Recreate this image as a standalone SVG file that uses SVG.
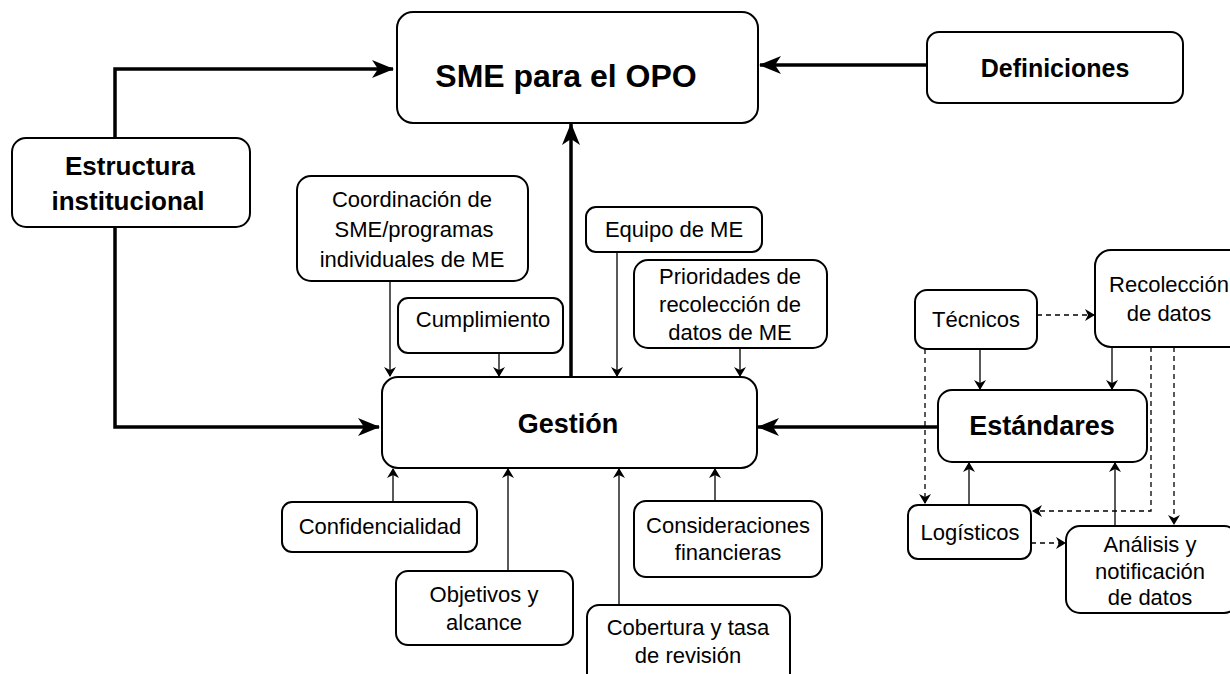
<svg xmlns="http://www.w3.org/2000/svg" width="1230" height="674" viewBox="0 0 1230 674">
<style>
.box{fill:#fff;stroke:#000;stroke-width:2}
.t{font-family:"Liberation Sans",Arial,sans-serif;font-size:22px;text-anchor:middle;fill:#000}
.b{font-weight:bold}
.thick{fill:none;stroke:#000;stroke-width:3.5}
.thin{fill:none;stroke:#000;stroke-width:1.3}
.dash{fill:none;stroke:#000;stroke-width:1.3;stroke-dasharray:5,4}
</style>
<defs>
<marker id="ab" markerWidth="10" markerHeight="12" refX="9" refY="6" orient="auto" markerUnits="userSpaceOnUse" viewBox="0 0 10 12"><path d="M0,0 L10,6 L0,12 L3,6 Z" fill="#000"/></marker>
<marker id="big" markerWidth="22" markerHeight="18" refX="21" refY="9" orient="auto" markerUnits="userSpaceOnUse" viewBox="0 0 22 18"><path d="M0,0 L22,9 L0,18 L6,9 Z" fill="#000"/></marker>
</defs>
<g id="connectors">
<path class="thick" d="M115,138 V69 H393" marker-end="url(#big)"/>
<path class="thick" d="M115,227 V427 H379" marker-end="url(#big)"/>
<path class="thick" d="M927,65 H760" marker-end="url(#big)"/>
<path class="thick" d="M571,377 V124" marker-end="url(#big)"/>
<path class="thick" d="M938,427 H758" marker-end="url(#big)"/>
<path class="thin" d="M390,281 V376" marker-end="url(#ab)"/>
<path class="thin" d="M499,353 V376" marker-end="url(#ab)"/>
<path class="thin" d="M617,252 V376" marker-end="url(#ab)"/>
<path class="thin" d="M740,348 V376" marker-end="url(#ab)"/>
<path class="thin" d="M393,502 V469" marker-end="url(#ab)"/>
<path class="thin" d="M508,571 V469" marker-end="url(#ab)"/>
<path class="thin" d="M619,605 V469" marker-end="url(#ab)"/>
<path class="thin" d="M715,501 V469" marker-end="url(#ab)"/>
<path class="dash" d="M1037,315 H1094" marker-end="url(#ab)"/>
<path class="thin" d="M980,349 V389" marker-end="url(#ab)"/>
<path class="dash" d="M925,349 V503" marker-end="url(#ab)"/>
<path class="thin" d="M1112,347 V389" marker-end="url(#ab)"/>
<path class="dash" d="M1151,347 V511 H1033" marker-end="url(#ab)"/>
<path class="dash" d="M1174,347 V524" marker-end="url(#ab)"/>
<path class="thin" d="M969,505 V463" marker-end="url(#ab)"/>
<path class="thin" d="M1115,526 V463" marker-end="url(#ab)"/>
<path class="dash" d="M1031,543 H1065" marker-end="url(#ab)"/>
</g>
<g id="sme"><rect class="box" x="397" y="12" width="361" height="111" rx="16"/><text class="t b" x="566" y="87" style="font-size:32px">SME para el OPO</text></g>
<g id="definiciones"><rect class="box" x="927" y="32" width="256" height="71" rx="12"/><text class="t b" x="1055" y="77" style="font-size:25px">Definiciones</text></g>
<g id="estructura"><rect class="box" x="12" y="138" width="238" height="89" rx="14"/><text class="t b" x="130" y="175" style="font-size:26px">Estructura</text><text class="t b" x="128" y="210" style="font-size:26px">institucional</text></g>
<g id="coordinacion"><rect class="box" x="297" y="176" width="231" height="105" rx="14"/><text class="t" x="412" y="207">Coordinación de</text><text class="t" x="414" y="237">SME/programas</text><text class="t" x="412" y="267">individuales de ME</text></g>
<g id="equipo"><rect class="box" x="586" y="207" width="176" height="45" rx="10"/><text class="t" x="674" y="237">Equipo de ME</text></g>
<g id="prioridades"><rect class="box" x="634" y="260" width="193" height="88" rx="14"/><text class="t" x="730" y="284">Prioridades de</text><text class="t" x="730" y="312">recolección de</text><text class="t" x="730" y="340">datos de ME</text></g>
<g id="cumplimiento"><rect class="box" x="398" y="298" width="165" height="55" rx="10"/><text class="t" x="483" y="327">Cumplimiento</text></g>
<g id="gestion"><rect class="box" x="382" y="377" width="375" height="91" rx="16"/><text class="t b" x="568" y="433" style="font-size:27px">Gestión</text></g>
<g id="estandares"><rect class="box" x="938" y="390" width="209" height="72" rx="14"/><text class="t b" x="1042" y="435" style="font-size:27px">Estándares</text></g>
<g id="tecnicos"><rect class="box" x="915" y="290" width="122" height="59" rx="12"/><text class="t" x="976" y="327">Técnicos</text></g>
<g id="recoleccion"><rect class="box" x="1095" y="250" width="150" height="97" rx="16"/><text class="t" x="1169" y="292">Recolección</text><text class="t" x="1169" y="321">de datos</text></g>
<g id="logisticos"><rect class="box" x="908" y="505" width="123" height="54" rx="10"/><text class="t" x="970" y="540">Logísticos</text></g>
<g id="analisis"><rect class="box" x="1066" y="526" width="172" height="87" rx="14"/><text class="t" x="1150" y="552">Análisis y</text><text class="t" x="1150" y="579">notificación</text><text class="t" x="1150" y="605">de datos</text></g>
<g id="confidencialidad"><rect class="box" x="282" y="502" width="195" height="50" rx="10"/><text class="t" x="380" y="534">Confidencialidad</text></g>
<g id="objetivos"><rect class="box" x="396" y="571" width="177" height="74" rx="12"/><text class="t" x="484" y="602">Objetivos y</text><text class="t" x="484" y="630">alcance</text></g>
<g id="cobertura"><rect class="box" x="587" y="605" width="203" height="80" rx="12"/><text class="t" x="688" y="635">Cobertura y tasa</text><text class="t" x="688" y="663">de revisión</text></g>
<g id="consideraciones"><rect class="box" x="634" y="501" width="188" height="76" rx="12"/><text class="t" x="728" y="533">Consideraciones</text><text class="t" x="728" y="560">financieras</text></g>
</svg>
